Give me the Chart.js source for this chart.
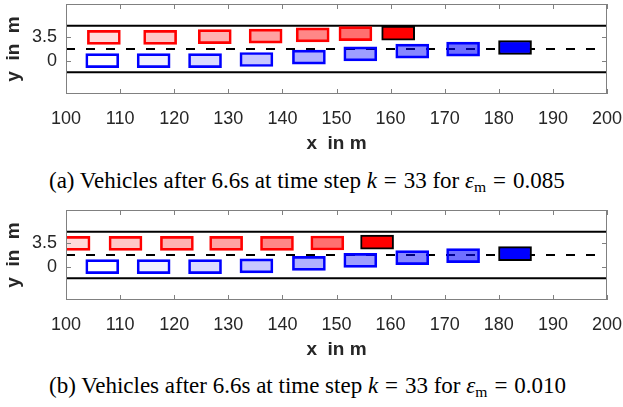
<!DOCTYPE html>
<html>
<head>
<meta charset="utf-8">
<script src="https://cdn.jsdelivr.net/npm/chart.js@4.4.1/dist/chart.umd.min.js"></script>
<style>
  html, body { margin:0; padding:0; background:#fff; }
  body { width:623px; height:407px; position:relative; overflow:hidden; }
  .plot { position:absolute; left:0; width:623px; height:160px; }
  .cap { position:absolute; left:49px; white-space:nowrap; font-family:"Liberation Serif","Times New Roman",serif; font-size:23px; line-height:26px; color:#000; }
  .cap i { font-style:italic; }
  .cap .eq { margin:0 0.3em; }
  .cap sub { font-size:68%; vertical-align:-0.28em; line-height:0; }
</style>
</head>
<body>
<div class="plot" style="top:0px"><canvas id="c1" width="623" height="160"></canvas></div>
<div class="cap" style="top:168px">(a) Vehicles after 6.6s at time step <i>k</i><span class="eq">=</span>33 for <i>ε</i><sub>m</sub><span class="eq">=</span>0.085</div>
<div class="plot" style="top:206px"><canvas id="c2" width="623" height="160"></canvas></div>
<div class="cap" style="top:373px">(b) Vehicles after 6.6s at time step <i>k</i><span class="eq">=</span>33 for <i>ε</i><sub>m</sub><span class="eq">=</span>0.010</div>
<script>
// ---- data ----
const xTicks = [100, 110, 120, 130, 140, 150, 160, 170, 180, 190, 200];
const yTicks = [0, 3.5];
const yTickLabels = ['0', '3.5'];
const laneSolid = [-1.75, 5.25];
const laneDashed = [1.75];
const laneStartX = 100;
const laneEndX = 200;

// (a) eps_m = 0.085
const redXA  = [107.0, 117.4, 127.5, 136.9, 145.6, 153.5, 161.4];
const redYA  = [3.5, 3.5, 3.6, 3.67, 3.87, 4.05, 4.14];
const blueXA = [106.7, 116.2, 125.7, 135.2, 144.9, 154.4, 164.0, 173.4, 183.0];
const blueYA = [0, 0, 0, 0.17, 0.53, 1.03, 1.43, 1.73, 1.97];

// (b) eps_m = 0.010
const redXB  = [101.4, 111.0, 120.5, 129.6, 139.0, 148.3, 157.5];
const redYB  = [3.5, 3.5, 3.5, 3.5, 3.5, 3.55, 3.67];
const blueXB = [106.7, 116.2, 125.7, 135.2, 144.9, 154.4, 164.0, 173.4, 183.0];
const blueYB = [0, 0, 0, 0.13, 0.49, 0.94, 1.35, 1.65, 1.95];

// ---- styles ----
const VEH_LEN = 6.1;
const redAlpha  = [0.14, 0.22, 0.30, 0.37, 0.47, 0.56, 1];
const blueAlpha = [0, 0.06, 0.14, 0.22, 0.31, 0.38, 0.47, 0.57, 1];
const FONT = '"Liberation Sans", Arial, Helvetica, sans-serif';
const TXT = '#262626';
const BOX = '#808080';

const matlabBox = {
  id: 'matlabBox',
  afterDraw(chart) {
    const {ctx, chartArea: a, scales} = chart;
    ctx.save();
    ctx.strokeStyle = BOX;
    ctx.lineWidth = 1;
    ctx.strokeRect(a.left + 0.5, a.top + 0.5, a.right - a.left - 1, a.bottom - a.top - 1);
    ctx.beginPath();
    const tl = 5;
    scales.x.ticks.forEach(t => {
      const px = Math.round(scales.x.getPixelForValue(t.value)) + 0.5;
      ctx.moveTo(px, a.bottom); ctx.lineTo(px, a.bottom - tl);
      ctx.moveTo(px, a.top); ctx.lineTo(px, a.top + tl);
    });
    scales.y.ticks.forEach(t => {
      const py = Math.round(scales.y.getPixelForValue(t.value)) + 0.5;
      ctx.moveTo(a.left, py); ctx.lineTo(a.left + tl, py);
      ctx.moveTo(a.right, py); ctx.lineTo(a.right - tl, py);
    });
    ctx.stroke();
    ctx.restore();
  }
};

function laneDataset(y, dashed) {
  return {
    type: 'line',
    data: [{x: laneStartX, y: y}, {x: laneEndX, y: y}],
    borderColor: '#000',
    borderWidth: 2,
    borderDash: dashed ? [9, 11] : [],
    pointRadius: 0,
    fill: false,
    order: 1
  };
}

function noPad(s) { s.paddingTop = 0; s.paddingBottom = 0; s.paddingLeft = 0; s.paddingRight = 0; }

function makeChart(id, redX, redY, blueX, blueY) {
  const n = redX.length, m = blueX.length;
  const bars = [];
  const bg = [], bc = [];
  redX.forEach((x, i) => {
    bars.push({y: redY[i], x: [x - VEH_LEN / 2, x + VEH_LEN / 2]});
    bg.push(i === n - 1 ? 'rgb(255,0,0)' : 'rgba(255,0,0,' + redAlpha[i] + ')');
    bc.push(i === n - 1 ? '#000' : 'rgb(255,0,0)');
  });
  blueX.forEach((x, i) => {
    bars.push({y: blueY[i], x: [x - VEH_LEN / 2, x + VEH_LEN / 2]});
    bg.push(i === m - 1 ? 'rgb(0,0,255)' : 'rgba(0,0,255,' + blueAlpha[i] + ')');
    bc.push(i === m - 1 ? '#000' : 'rgb(0,0,255)');
  });
  const datasets = [{
    type: 'bar',
    data: bars,
    backgroundColor: bg,
    borderColor: bc,
    borderWidth: 2,
    borderSkipped: false,
    barThickness: 14,
    clip: 0,
    order: 0
  }];
  laneSolid.forEach(y => datasets.push(laneDataset(y, false)));
  laneDashed.forEach(y => datasets.push(laneDataset(y, true)));

  return new Chart(document.getElementById(id), {
    type: 'bar',
    data: { datasets },
    options: {
      indexAxis: 'y',
      responsive: false,
      animation: false,
      devicePixelRatio: 1,
      layout: { padding: { top: 4, right: 16, left: 0, bottom: 0 } },
      plugins: { legend: { display: false }, tooltip: { enabled: false } },
      scales: {
        x: {
          type: 'linear', min: 100, max: 200, offset: false, beginAtZero: false,
          grid: { display: false, drawTicks: false, offset: false },
          border: { display: false },
          afterBuildTicks: s => { s.ticks = xTicks.map(v => ({value: v})); },
          afterFit: s => { s.height = 66; noPad(s); },
          ticks: { font: { family: FONT, size: 18 }, color: TXT, padding: 14, maxRotation: 0, autoSkip: false,
                   callback: v => String(v) },
          title: { display: true, text: 'x  in m', color: TXT, font: { family: FONT, size: 19, weight: 'bold' },
                   padding: { top: 0, bottom: 5 } }
        },
        y: {
          type: 'linear', min: -5, max: 8.5, offset: false, beginAtZero: false,
          grid: { display: false, drawTicks: false, offset: false },
          border: { display: false },
          afterBuildTicks: s => { s.ticks = yTicks.map(v => ({value: v})); },
          afterFit: s => { s.width = 66; noPad(s); },
          ticks: { font: { family: FONT, size: 18 }, color: TXT, padding: 9, autoSkip: false,
                   callback: v => { const k = yTicks.indexOf(v); return k >= 0 ? yTickLabels[k] : ''; } },
          title: { display: true, text: 'y  in  m', color: TXT, font: { family: FONT, size: 19, weight: 'bold' },
                   padding: { top: 2, bottom: 0 } }
        }
      }
    },
    plugins: [matlabBox]
  });
}

makeChart('c1', redXA, redYA, blueXA, blueYA);
makeChart('c2', redXB, redYB, blueXB, blueYB);
</script>
</body>
</html>
